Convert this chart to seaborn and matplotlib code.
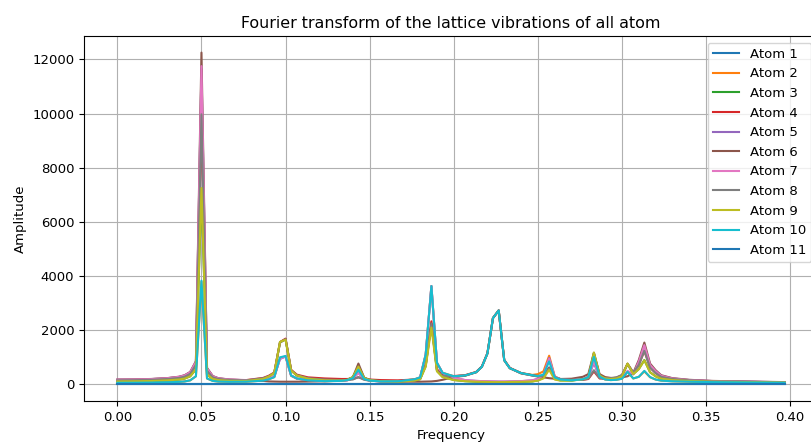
import matplotlib
matplotlib.use("Agg")
import matplotlib.pyplot as plt
import seaborn as sns

freq = [0.0, 0.01, 0.02, 0.03, 0.0367, 0.04, 0.0433, 0.0467, 0.05, 0.0533,
        0.0567, 0.06, 0.0667, 0.0767, 0.0867, 0.09, 0.0933, 0.0967, 0.1, 0.1033,
        0.1067, 0.1133, 0.1233, 0.1333, 0.1367, 0.14, 0.1433, 0.1467, 0.15, 0.1567,
        0.1667, 0.1767, 0.18, 0.1833, 0.1867, 0.19, 0.1933, 0.2, 0.2067, 0.2133,
        0.2167, 0.22, 0.2233, 0.2267, 0.23, 0.2333, 0.24, 0.2467, 0.25, 0.2533,
        0.2567, 0.26, 0.2633, 0.27, 0.2767, 0.28, 0.2833, 0.2867, 0.29, 0.2933,
        0.2967, 0.3, 0.3033, 0.3067, 0.31, 0.3133, 0.3167, 0.32, 0.3233, 0.33,
        0.34, 0.3533, 0.37, 0.3967]

atom1 = [0.0] * 74

atom2 = [60, 62, 68, 80, 95, 110, 150, 300, 3800, 220,
         130, 105, 95, 100, 140, 190, 270, 980, 1030, 320,
         215, 150, 120, 130, 160, 235, 560, 205, 140, 110,
         115, 190, 260, 1100, 3630, 800, 430, 300, 330, 450,
         650, 1140, 2450, 2730, 890, 600, 420, 350, 380, 480,
         1060, 300, 190, 155, 190, 265, 1000, 285, 180, 160,
         170, 210, 470, 220, 280, 480, 265, 180, 140, 115,
         100, 85, 75, 60]

atom3 = [110, 115, 125, 150, 180, 215, 300, 555, 7200, 365,
         200, 160, 130, 125, 200, 290, 420, 1560, 1670, 515,
         330, 210, 150, 140, 170, 270, 680, 245, 160, 115,
         100, 145, 195, 680, 2250, 510, 285, 165, 120, 100,
         95, 90, 85, 85, 85, 90, 95, 110, 150, 250,
         620, 200, 150, 145, 190, 260, 1150, 320, 220, 200,
         220, 300, 760, 380, 570, 900, 450, 300, 210, 160,
         125, 100, 90, 70]

atom4 = [150, 155, 170, 200, 240, 285, 390, 720, 9950, 500,
         260, 200, 165, 160, 240, 320, 440, 1560, 1690, 540,
         360, 260, 220, 200, 200, 210, 260, 200, 180, 160,
         150, 180, 230, 730, 2330, 560, 340, 310, 340, 460,
         660, 1150, 2450, 2730, 900, 610, 420, 340, 310, 320,
         620, 260, 200, 170, 170, 200, 480, 220, 210, 220,
         250, 340, 760, 440, 720, 1240, 620, 420, 280, 200,
         150, 115, 100, 75]

atom5 = [175, 180, 195, 230, 275, 330, 445, 820, 11650, 585,
         300, 220, 175, 155, 175, 225, 285, 940, 1030, 320,
         215, 155, 125, 130, 155, 225, 430, 195, 140, 110,
         110, 170, 255, 1090, 3630, 790, 425, 250, 160, 130,
         120, 115, 110, 105, 105, 110, 120, 150, 210, 350,
         980, 285, 190, 160, 195, 280, 780, 270, 210, 190,
         200, 250, 470, 370, 840, 1450, 720, 490, 320, 220,
         160, 125, 105, 80]

atom6 = [180, 185, 200, 235, 285, 340, 460, 860, 12250, 610,
         310, 230, 180, 150, 130, 110, 105, 100, 100, 100,
         100, 105, 115, 140, 180, 260, 770, 250, 170, 125,
         105, 100, 100, 105, 110, 130, 170, 270, 320, 450,
         650, 1150, 2450, 2730, 900, 600, 410, 330, 290, 260,
         230, 210, 200, 210, 280, 380, 1170, 380, 270, 240,
         240, 260, 300, 420, 900, 1545, 770, 525, 340, 230,
         170, 130, 110, 85]

atom7 = [175, 180, 195, 230, 280, 330, 450, 830, 11750, 590,
         300, 225, 180, 160, 180, 230, 290, 950, 1030, 330,
         220, 160, 130, 130, 150, 220, 420, 190, 140, 110,
         110, 170, 260, 1100, 3630, 800, 430, 250, 160, 130,
         120, 115, 110, 105, 105, 110, 120, 150, 200, 340,
         950, 280, 190, 160, 200, 290, 834, 280, 210, 190,
         200, 260, 500, 380, 840, 1450, 720, 490, 320, 220,
         160, 125, 105, 80]

atom8 = [150, 155, 170, 200, 240, 285, 390, 720, 9970, 500,
         260, 200, 160, 150, 230, 300, 430, 1540, 1670, 520,
         340, 230, 180, 160, 160, 180, 270, 170, 140, 120,
         115, 150, 200, 700, 2250, 520, 310, 300, 330, 450,
         650, 1140, 2450, 2730, 890, 600, 410, 330, 300, 300,
         600, 260, 200, 170, 170, 210, 525, 230, 220, 230,
         260, 350, 760, 440, 720, 1240, 620, 420, 280, 200,
         150, 115, 100, 75]

atom9 = [110, 115, 125, 150, 180, 215, 300, 560, 7250, 370,
         200, 160, 130, 125, 200, 290, 420, 1570, 1650, 510,
         330, 210, 150, 140, 170, 270, 660, 240, 160, 115,
         100, 140, 190, 650, 2100, 480, 270, 160, 120, 100,
         95, 90, 85, 85, 85, 90, 95, 110, 140, 220,
         540, 180, 140, 140, 190, 260, 1176, 330, 220, 200,
         220, 300, 770, 380, 560, 890, 450, 300, 210, 160,
         125, 100, 90, 70]

atom10 = [60, 62, 68, 80, 95, 110, 150, 300, 3830, 220,
          130, 105, 95, 100, 140, 190, 270, 1000, 1050, 330,
          220, 150, 120, 130, 160, 230, 540, 200, 140, 110,
          115, 190, 260, 1100, 3630, 800, 430, 300, 330, 450,
          650, 1140, 2450, 2730, 890, 600, 420, 340, 310, 360,
          850, 260, 180, 150, 190, 270, 1018, 290, 180, 160,
          170, 210, 467, 220, 280, 500, 270, 180, 140, 115,
          100, 85, 75, 60]

atom11 = [0.0] * 74

series = [atom1, atom2, atom3, atom4, atom5, atom6,
          atom7, atom8, atom9, atom10, atom11]
labels = ["Atom 1", "Atom 2", "Atom 3", "Atom 4", "Atom 5", "Atom 6",
          "Atom 7", "Atom 8", "Atom 9", "Atom 10", "Atom 11"]

plt.rcParams["font.size"] = 9.5
colors = sns.color_palette("tab10", 10)

fig = plt.figure(figsize=(8.12, 4.45), dpi=100)
ax = fig.add_axes([84 / 812, 44 / 445, (818 - 84) / 812, (401 - 36) / 445])

for i, (vals, lab) in enumerate(zip(series, labels)):
    sns.lineplot(x=freq, y=vals, ax=ax, label=lab, color=colors[i % 10],
                 linewidth=1.5, legend=False)

ax.set_title("Fourier transform of the lattice vibrations of all atom", fontsize=11.4)
ax.set_xlabel("Frequency")
ax.set_ylabel("Amplitude")
ax.grid(True)
ax.legend(loc="upper right")

fig.savefig("out.png", dpi=100)
